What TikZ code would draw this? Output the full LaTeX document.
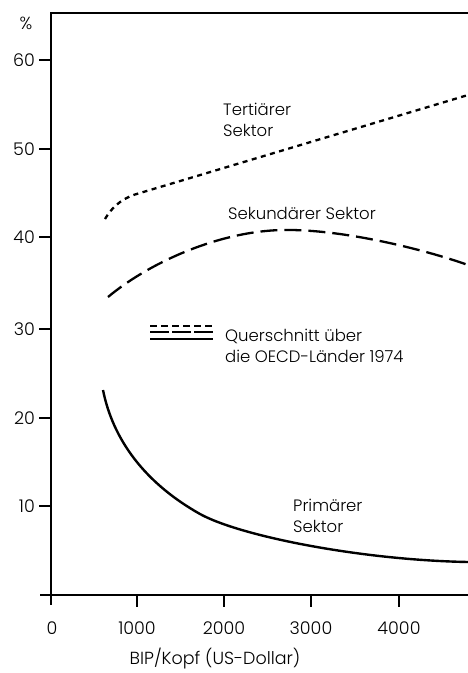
\documentclass[tikz,border=0pt]{standalone}
\usepackage{fontspec}
\setmainfont{Poppins}[UprightFont={* Light}]
\begin{document}
\begin{tikzpicture}[x=1pt,y=-1pt,
  axis/.style={line width=1.7pt},
  lbl/.style={font=\fontsize{17.5}{20}\selectfont,inner sep=0pt},
  txt/.style={font=\fontsize{16.5}{20.5}\selectfont,inner sep=0pt,anchor=west,align=left},
  tert/.style={line width=2.3pt,dash pattern=on 5pt off 4.5pt},
  sek/.style={line width=2.3pt,dash pattern=on 17pt off 7pt},
  prim/.style={line width=2.4pt}]
\useasboundingbox (0,0) rectangle (468,673);
% frame and axes
\coordinate (tl) at (51,13);
\coordinate (tr) at (468,13);
\coordinate (bl) at (51,605);
\coordinate (xl) at (40,595);
\coordinate (xr) at (468,595);
\draw[axis] (tr) -- (tl) -- (bl);
\draw[axis] (xl) -- (xr);
% y ticks
\foreach \v/\yy in {10/506,20/418,30/329,40/237,50/149,60/60}{
  \coordinate (yt\v) at (39,\yy);
  \coordinate (ya\v) at (51,\yy);
  \draw[axis] (yt\v) -- (ya\v);
  \node[lbl,anchor=east] (yl\v) at (35,\yy) {\v};
}
\node[lbl] (pct) at (26,23) {\%};
% x ticks
\foreach \v/\xx in {1000/137,2000/224,3000/311,4000/399}{
  \coordinate (xa\v) at (\xx,595);
  \coordinate (xt\v) at (\xx,607);
  \draw[axis] (xa\v) -- (xt\v);
  \node[lbl] (xl\v) at (\xx,628) {\v};
}
\node[lbl] (xl0) at (52,628) {0};
\node[lbl] (xtitle) at (215,659) {BIP/Kopf (US-Dollar)};
% curves
\coordinate (t0) at (105,219);
\coordinate (t1) at (140,193);
\coordinate (t2) at (468,95);
\draw[tert] (t0) .. controls (114,204) and (125,197) .. (t1) -- (t2);
\coordinate (s0) at (108,297);
\coordinate (s1) at (283,230);
\coordinate (s2) at (468,265);
\draw[sek] (s0) .. controls (150,262) and (220,231) .. (s1) .. controls (340,229) and (420,248) .. (s2);
\coordinate (p0) at (103,390);
\coordinate (p1) at (200,514);
\coordinate (p2) at (468,562);
\draw[prim] (p0) .. controls (113,440) and (145,483) .. (p1) .. controls (240,536) and (360,560) .. (p2);
% labels
\node[txt] (tlab) at (223,120) {Terti\"arer\\Sektor};
\node[txt] (slab) at (228,213) {Sekund\"arer Sektor};
\node[txt] (plab) at (293,516) {Prim\"arer\\Sektor};
% legend
\coordinate (l1a) at (150,326); \coordinate (l1b) at (213,326);
\coordinate (l2a) at (150,332); \coordinate (l2b) at (213,332);
\coordinate (l3a) at (150,339); \coordinate (l3b) at (213,339);
\draw[line width=1.5pt,dash pattern=on 7pt off 4pt] (l1a) -- (l1b);
\draw[line width=1.5pt,dash pattern=on 19pt off 3pt] (l2a) -- (l2b);
\draw[line width=1.5pt] (l3a) -- (l3b);
\node[txt] (leg) at (225,346) {Querschnitt \"uber\\die OECD-L\"ander 1974};
\end{tikzpicture}
\end{document}
